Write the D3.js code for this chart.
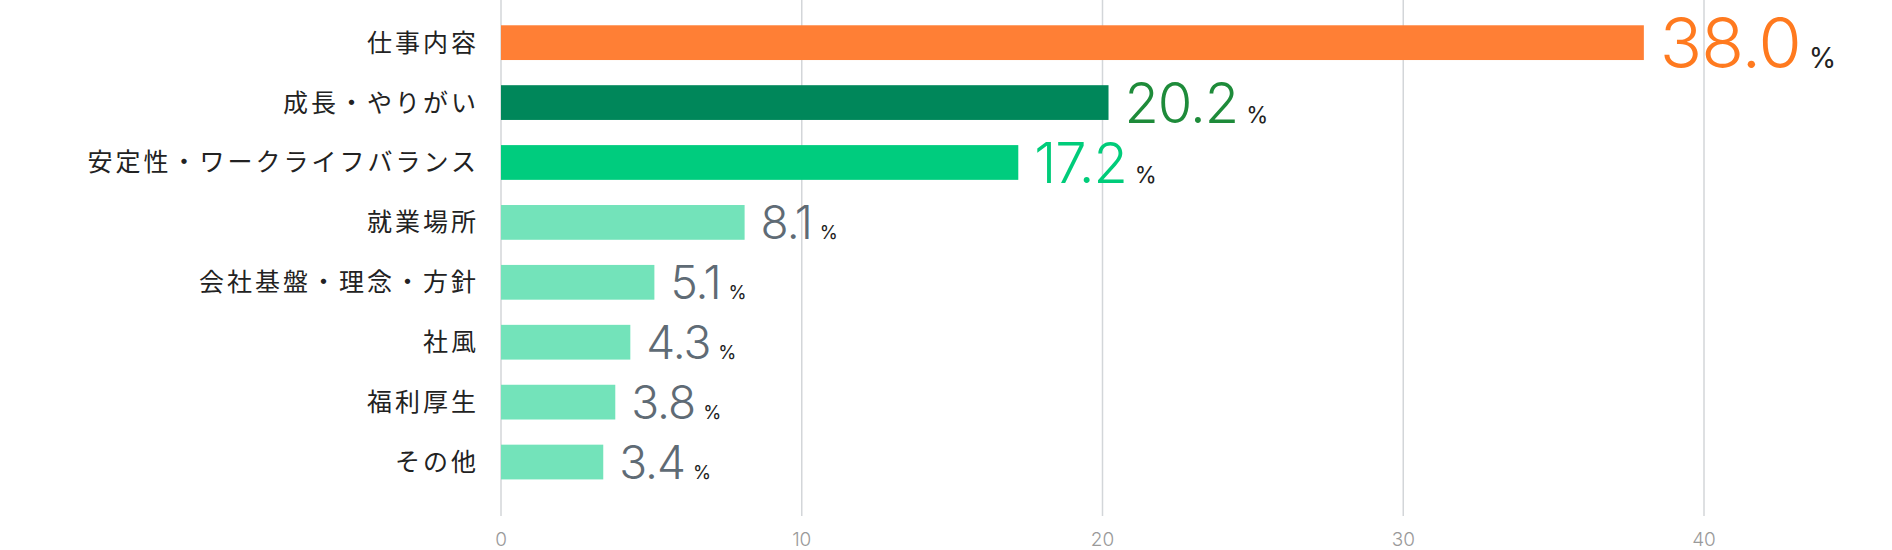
<!DOCTYPE html>
<html><head><meta charset="utf-8">
<script src="https://cdn.jsdelivr.net/npm/d3@7"></script>
<style>body{margin:0;background:#fff}</style>
</head><body><div id="chart"></div>
<script>
const categories = ["仕事内容","成長・やりがい","安定性・ワークライフバランス","就業場所","会社基盤・理念・方針","社風","福利厚生","その他"];
const values = [38.0, 20.2, 17.2, 8.1, 5.1, 4.3, 3.8, 3.4];
const barColors = ["#FF7F35","#00875A","#00CC7E","#73E3BA","#73E3BA","#73E3BA","#73E3BA","#73E3BA"];
const textColors = ["#FF7A1F","#1E8B3A","#00CC7A","#5F6B75","#5F6B75","#5F6B75","#5F6B75","#5F6B75"];
const textSizes = [70, 56, 56, 46, 46, 46, 46, 46];
const ticks = [0, 10, 20, 30, 40];

const width = 1892, height = 550;
const svg = d3.select("#chart").append("svg").attr("width", width).attr("height", height);

const x = d3.scaleLinear().domain([0, 40]).range([501, 1704]);
const y = d3.scaleBand().domain(categories).range([12.7, 492]).paddingInner(0.42).paddingOuter(0.21);

// grid
svg.selectAll(".grid").data(ticks).enter().append("line")
    .attr("x1", d => x(d)).attr("x2", d => x(d))
    .attr("y1", 0).attr("y2", 516)
    .attr("stroke", "#d3d6d9").attr("stroke-width", 1.5);

svg.selectAll(".tick").data(ticks).enter().append("text")
    .attr("x", d => x(d)).attr("y", 546)
    .attr("text-anchor", "middle")
    .attr("font-family", "Inter, Roboto, sans-serif").attr("font-weight", 300)
    .attr("font-size", 19).attr("fill", "#9a9a9a")
    .text(d => d);

svg.selectAll(".bar").data(values).enter().append("rect")
    .attr("x", x(0)).attr("y", (d, i) => y(categories[i]))
    .attr("width", d => x(d) - x(0)).attr("height", y.bandwidth())
    .attr("fill", (d, i) => barColors[i]);

svg.selectAll(".cat").data(categories).enter().append("text")
    .attr("x", 479).attr("y", d => y(d) + y.bandwidth() / 2)
    .attr("dy", "0.36em").attr("text-anchor", "end")
    .attr("font-family", "'Noto Sans CJK JP', sans-serif")
    .attr("font-size", 25).attr("letter-spacing", 3).attr("fill", "#222")
    .text(d => d);

const val = svg.selectAll(".val").data(values).enter().append("text")
    .attr("x", d => x(d) + 16)
    .attr("y", (d, i) => y(categories[i]) + y.bandwidth() / 2 + textSizes[i] * 0.36)
    .attr("font-family", "Inter, Roboto, sans-serif").attr("font-weight", 300);
val.append("tspan")
    .attr("font-size", (d, i) => textSizes[i]).attr("fill", (d, i) => textColors[i])
    .attr("letter-spacing", -1)
    .text(d => d.toFixed(1));
val.append("tspan")
    .attr("dx", 8).attr("font-size", (d, i) => textSizes[i] * 0.4).attr("fill", "#222")
    .attr("font-weight", 400)
    .text("%");
</script>
</body></html>
